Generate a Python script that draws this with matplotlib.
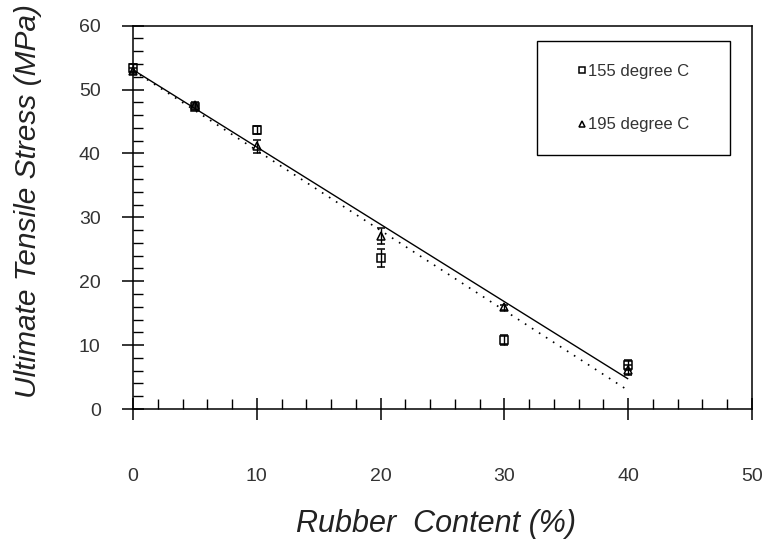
import matplotlib
matplotlib.use("Agg")
import matplotlib.pyplot as plt
from matplotlib.ticker import MultipleLocator

plt.rcParams['font.family'] = ['Liberation Sans', 'DejaVu Sans']

# Data
rubber = [0, 5, 10, 20, 30, 40]
uts_155 = [53.4, 47.2, 43.7, 23.6, 10.8, 6.9]
err_155 = [0.6, 0.4, 0.6, 1.4, 0.85, 0.8]
uts_195 = [52.9, 47.6, 41.1, 27.1, 15.9, 6.1]
err_195 = [0.5, 0.4, 1.0, 1.2, 0.4, 0.8]

fit_x = [0, 40]
fit_195 = [53.1, 4.7]   # solid line
fit_155 = [53.0, 2.9]   # dotted line

x_ticks = [0, 10, 20, 30, 40, 50]
y_ticks = [0, 10, 20, 30, 40, 50, 60]
labels = ['155 degree C', '195 degree C']

fig = plt.figure(figsize=(7.7, 5.4), dpi=100)
ax = fig.add_axes([133/770, 1 - 409/540, 619/770, 383.3/540])

ax.plot(fit_x, fit_195, color='black', lw=1.0, solid_capstyle='butt')
ax.plot(fit_x, fit_155, color='black', lw=1.2, linestyle=(0, (1, 4)))

eb1 = ax.errorbar(rubber, uts_155, yerr=err_155, fmt='s', ms=5.5, mfc='none',
                  mec='black', mew=1.1, ecolor='black', elinewidth=1.0,
                  capsize=2.6, capthick=1.0, label=labels[0], clip_on=False)
eb2 = ax.errorbar(rubber, uts_195, yerr=err_195, fmt='^', ms=6, mfc='none',
                  mec='black', mew=1.1, ecolor='black', elinewidth=1.0,
                  capsize=2.6, capthick=1.0, label=labels[1], clip_on=False)

ax.set_xlim(0, 50)
ax.set_ylim(0, 60)
ax.set_xticks(x_ticks)
ax.set_yticks(y_ticks)
ax.xaxis.set_minor_locator(MultipleLocator(2))
ax.yaxis.set_minor_locator(MultipleLocator(2))

for s in ax.spines.values():
    s.set_linewidth(1.1)

ax.tick_params(axis='both', which='major', direction='inout', length=16.5,
               width=1.1, labelsize=14, labelcolor='#333333')
ax.tick_params(axis='both', which='minor', direction='in', length=7, width=1.0)
ax.tick_params(axis='x', which='major', pad=34)
ax.tick_params(axis='y', which='major', pad=15)

ax.set_xlabel('Rubber  Content (%)', fontsize=22, fontstyle='italic',
              color='#222222', va='center')
ax.set_ylabel('Ultimate Tensile Stress (MPa)', fontsize=21.5,
              fontstyle='italic', color='#222222', va='center')
ax.xaxis.set_label_coords(0.490, -0.300)
ax.yaxis.set_label_coords(-0.1696, 0.5425)

leg = ax.legend(handles=[eb1.lines[0], eb2.lines[0]], labels=labels,
                loc='upper left', bbox_to_anchor=(0.6527, 0.9588, 0.3118, 0.0),
                mode='expand', borderaxespad=0, fontsize=12, frameon=True,
                fancybox=False, edgecolor='black', framealpha=1,
                borderpad=1.36, labelspacing=2.3, handlelength=2.72,
                handletextpad=-1.02, markerscale=0.8, numpoints=1)
leg.get_frame().set_linewidth(1.0)
for t in leg.get_texts():
    t.set_color('#333333')

fig.savefig('out.png', dpi=100)
